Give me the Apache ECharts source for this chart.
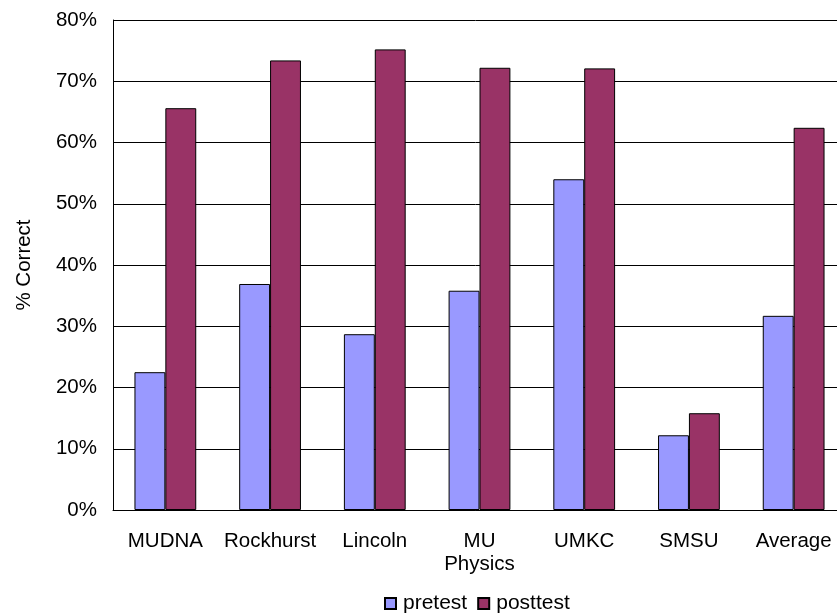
<!DOCTYPE html>
<html>
<head>
<meta charset="utf-8">
<script src="https://cdn.jsdelivr.net/npm/echarts@6/dist/echarts.min.js"></script>
<style>
html,body{margin:0;padding:0;background:#fff;}
#chart{width:837px;height:613px;}
</style>
</head>
<body>
<div id="chart"></div>
<script>
var categories = ['MUDNA', 'Rockhurst', 'Lincoln', 'MU\nPhysics', 'UMKC', 'SMSU', 'Average'];
var pretest = [22.5, 36.9, 28.7, 35.8, 54.0, 12.2, 31.7];
var posttest = [65.6, 73.4, 75.2, 72.2, 72.1, 15.8, 62.4];
var yTicks = [0, 10, 20, 30, 40, 50, 60, 70, 80];

var chart = echarts.init(document.getElementById('chart'));
var font = 'Liberation Sans, Arial, sans-serif';
chart.setOption({
  animation: false,
  backgroundColor: '#fff',
  grid: { left: 113, right: -9, top: 20, bottom: 103, containLabel: false, outerBoundsMode: 'none' },
  legend: {
    data: ['pretest', 'posttest'],
    left: 379, top: 588,
    itemWidth: 11, itemHeight: 11, itemGap: 10,
    icon: 'rect',
    textStyle: { fontFamily: font, fontSize: 21, color: '#000', padding: [0, 0, 0, 2] }
  },
  xAxis: {
    type: 'category',
    data: categories,
    axisLine: { lineStyle: { color: '#000', width: 1 } },
    axisTick: { show: false },
    axisLabel: { fontFamily: font, fontSize: 20.5, color: '#000', margin: 20, lineHeight: 23, interval: 0 }
  },
  yAxis: {
    type: 'value',
    min: yTicks[0], max: yTicks[yTicks.length - 1], interval: 10,
    name: '% Correct',
    nameLocation: 'middle',
    nameGap: 78,
    nameTextStyle: { fontFamily: font, fontSize: 20.5, color: '#000' },
    axisLine: { show: true, lineStyle: { color: '#000', width: 1 } },
    axisTick: { show: false },
    axisLabel: { fontFamily: font, fontSize: 20.5, color: '#000', margin: 16, formatter: '{value}%' },
    splitLine: { show: true, lineStyle: { color: '#000', width: 1 } }
  },
  series: [
    {
      name: 'pretest', type: 'bar', data: pretest,
      barGap: '0%', barCategoryGap: '41%',
      itemStyle: { color: '#9999FF', borderColor: '#000', borderWidth: 1 }
    },
    {
      name: 'posttest', type: 'bar', data: posttest,
      barGap: '0%', barCategoryGap: '41%',
      itemStyle: { color: '#993366', borderColor: '#000', borderWidth: 1 }
    }
  ]
});
</script>
</body>
</html>
